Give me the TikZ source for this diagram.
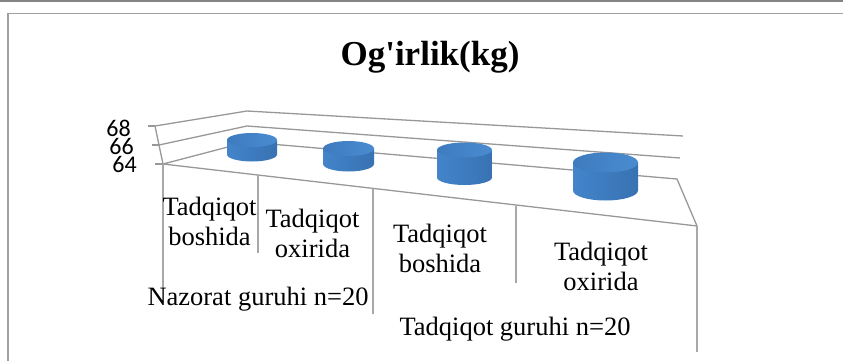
\documentclass[tikz,border=0pt]{standalone}
\usepackage{fontspec}
\setmainfont{Liberation Serif}
\newfontfamily\axisfont{Carlito}
\definecolor{gridc}{HTML}{989898}
\definecolor{sepc}{HTML}{A8A8A8}
\definecolor{framec}{HTML}{A0A0A0}
\definecolor{barc}{HTML}{848484}
\definecolor{cylL}{HTML}{4384CA}
\definecolor{cylM}{HTML}{64AAEE}
\definecolor{cylR}{HTML}{3872B2}
\definecolor{cylTa}{HTML}{3E7BBE}
\definecolor{cylTb}{HTML}{4A8BD0}
\newcommand\mycyl[5]{%
  \shade[left color=cylL, middle color=cylM, right color=cylR]
    (#1-#4,#2) -- (#1-#4,#3) arc[start angle=180,end angle=360,x radius=#4,y radius=#5]
    -- (#1+#4,#2) -- cycle;
  \shade[left color=cylTa, right color=cylTb] (#1,#2) ellipse[x radius=#4,y radius=#5];
}
\newcommand\straightquote{\XeTeXglyph\XeTeXglyphindex "quotesingle"\relax}
\begin{document}
\begin{tikzpicture}[x=1bp,y=1bp,
  gridline/.style={draw=gridc, line width=1.3bp, line join=round},
  sepline/.style={draw=sepc, line width=1.3bp},
  cat/.style={font=\fontsize{26.5bp}{30bp}\selectfont, align=center, inner sep=0pt},
  grp/.style={font=\fontsize{26.5bp}{30bp}\selectfont, inner sep=0pt, anchor=base},
  ax/.style={font=\axisfont\fontsize{24bp}{24bp}\selectfont, inner sep=0pt, anchor=east}]
\useasboundingbox (0,0) rectangle (843,360);
% top bar and frame
\fill[barc] (0,357.7) rectangle (843,360);
\draw[framec, line width=1.6bp] (8,-5) -- (8,346.5) -- (850,346.5);
% title
\node[font=\bfseries\fontsize{35bp}{40bp}\selectfont, anchor=base, inner sep=0pt] (title) at (430,295) {Og\straightquote irlik(kg)};
% axis labels
\node[ax] (y68) at (131,232) {68};
\node[ax] (y66) at (134,213.5) {66};
\node[ax] (y64) at (137,195.5) {64};
% ticks
\draw[gridline] (148,234) -- (155,234);
\draw[gridline] (152,215) -- (159,215);
\draw[gridline] (155,196) -- (163,196);
% walls and floor
\draw[gridline] (155,234) -- (163,196);
\draw[gridline] (155,234) -- (247,249) -- (683,224);
\draw[gridline] (159,215) -- (247,234) -- (680,202);
\draw[gridline] (163,196) -- (247,218) -- (677,181) -- (697,134) -- cycle;
% category separators
\draw[sepline] (163,196) -- (163,72);
\draw[sepline] (258,185) -- (258,107);
\draw[sepline] (373,171.5) -- (373,46);
\draw[sepline] (516,154) -- (516,77);
\draw[sepline] (697,134) -- (697,8);
% cylinders
\mycyl{252}{220}{205.5}{25}{7}
\mycyl{348.5}{211.5}{196}{25.5}{7.5}
\mycyl{464.5}{210}{182.5}{27.5}{7.5}
\mycyl{605.5}{197.5}{169.5}{32.5}{10}
% category labels
\node[cat] (c1) at (209.5,139) {Tadqiqot\\boshida};
\node[cat] (c2) at (312.5,127) {Tadqiqot\\oxirida};
\node[cat] (c3) at (440,112) {Tadqiqot\\boshida};
\node[cat] (c4) at (601,94) {Tadqiqot\\oxirida};
\node[grp] (g1) at (258,55) {Nazorat guruhi n=20};
\node[grp] (g2) at (515,25) {Tadqiqot guruhi n=20};
\end{tikzpicture}
\end{document}
